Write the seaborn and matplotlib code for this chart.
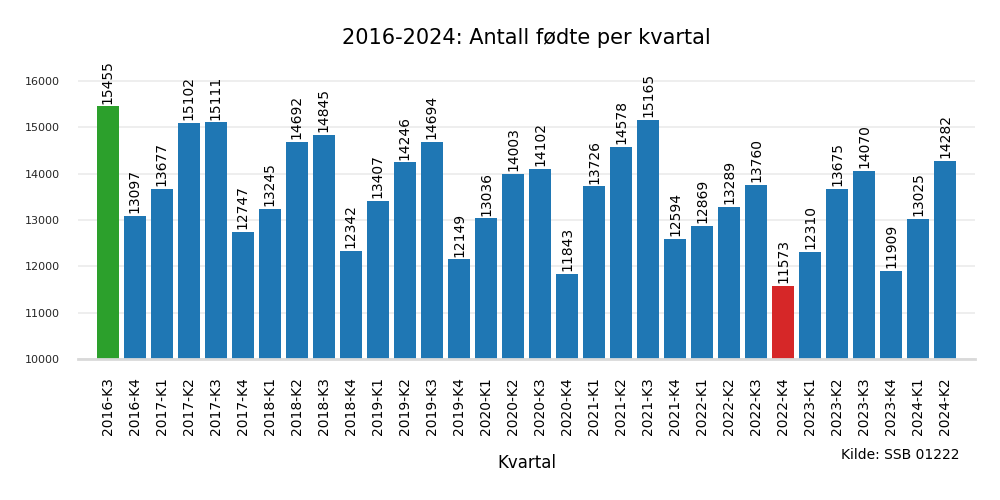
import matplotlib
matplotlib.use("Agg")
import matplotlib.pyplot as plt
import seaborn as sns
import pandas as pd

quarters = ["2016-K3", "2016-K4", "2017-K1", "2017-K2", "2017-K3", "2017-K4",
            "2018-K1", "2018-K2", "2018-K3", "2018-K4", "2019-K1", "2019-K2",
            "2019-K3", "2019-K4", "2020-K1", "2020-K2", "2020-K3", "2020-K4",
            "2021-K1", "2021-K2", "2021-K3", "2021-K4", "2022-K1", "2022-K2",
            "2022-K3", "2022-K4", "2023-K1", "2023-K2", "2023-K3", "2023-K4",
            "2024-K1", "2024-K2"]
births = [15455, 13097, 13677, 15102, 15111, 12747, 13245, 14692, 14845, 12342,
          13407, 14246, 14694, 12149, 13036, 14003, 14102, 11843, 13726, 14578,
          15165, 12594, 12869, 13289, 13760, 11573, 12310, 13675, 14070, 11909,
          13025, 14282]

sns.set_theme(style="whitegrid")
plt.rcParams['font.family'] = ['DejaVu Sans']

df = pd.DataFrame({"Kvartal": quarters, "Fødte": births})
maxv, minv = max(births), min(births)
colors = ["#2ca02c" if v == maxv else ("#d62728" if v == minv else "#1f77b4") for v in births]

fig = plt.figure(figsize=(10, 5), dpi=100)
ax = fig.add_axes([0.078, 0.282, 0.897, 0.602])
sns.barplot(data=df, x="Kvartal", y="Fødte", hue="Kvartal", palette=colors,
            legend=False, ax=ax, width=0.8, saturation=1, linewidth=0)

for i, v in enumerate(births):
    ax.text(i, v + 60, str(v), rotation=90, ha="center", va="bottom",
            fontsize=10, color="black")

ax.set_ylim(10000, 16500)
ax.set_xlim(-1.1, len(births) - 1 + 1.1)
ax.set_yticks(range(10000, 16001, 1000))
ax.tick_params(axis="y", labelsize=8, length=0, pad=13)
ax.tick_params(axis="x", labelsize=10, rotation=90, length=0, pad=13)
for lab in ax.get_xticklabels():
    lab.set_color("black")
ax.grid(axis="y", color="#ebebeb", linewidth=1.2)
ax.grid(axis="x", visible=False)
for s in ["left", "right", "top"]:
    ax.spines[s].set_visible(False)
ax.spines["bottom"].set_color("#d9d9d9")
ax.spines["bottom"].set_linewidth(2)
ax.set_ylabel("")
ax.set_xlabel("Kvartal", fontsize=12, color="black", labelpad=14)
ax.set_title("2016-2024: Antall fødte per kvartal", fontsize=15, pad=10, color="black")
fig.text(0.9, 0.09, "Kilde: SSB 01222", ha="center", va="center", fontsize=10, color="black")

fig.savefig("out.png", dpi=100)
